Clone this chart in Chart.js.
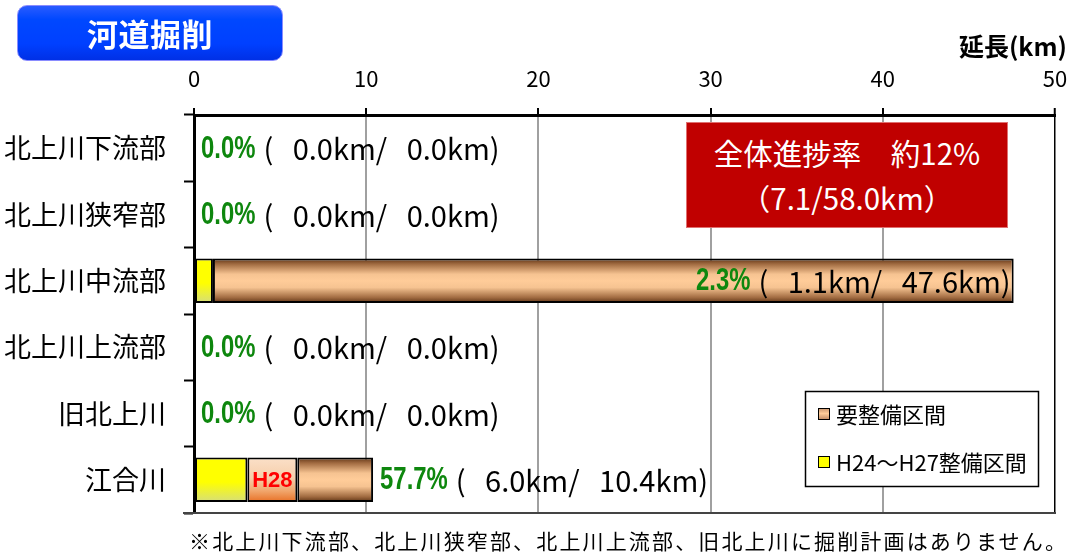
<!DOCTYPE html>
<html lang="ja">
<head>
<meta charset="utf-8">
<title>河道掘削</title>
<script src="https://cdn.jsdelivr.net/npm/chart.js@4.4.1/dist/chart.umd.min.js"></script>
<style>
html,body{margin:0;padding:0;background:#fff;}
#wrap{position:relative;width:1078px;height:556px;overflow:hidden;font-family:"Noto Sans CJK JP","Noto Sans",sans-serif;}
#chart{position:absolute;left:0;top:0;}
#title{position:absolute;left:17px;top:5px;width:266px;height:56px;box-sizing:border-box;border-radius:10px;
  border:1px solid #8a8cff;background:linear-gradient(#2a5cff 0%,#0048ff 25%,#0040ff 70%,#0030e6 100%);
  color:#fff;font-weight:bold;font-size:31px;line-height:54px;text-align:center;letter-spacing:0.5px;}
#unit{position:absolute;right:11px;top:29px;font-weight:bold;font-size:25px;line-height:32px;color:#000;}
#summary{position:absolute;left:686px;top:122px;width:322px;height:106px;box-sizing:border-box;
  background:#c00000;border:1px solid #e07070;color:#fff;font-size:29.5px;line-height:45px;text-align:center;padding-top:7px;}
#note{position:absolute;left:189px;top:524px;font-size:21px;line-height:32px;letter-spacing:2.15px;color:#000;white-space:nowrap;}
</style>
</head>
<body>
<div id="wrap">
  <canvas id="chart" width="1078" height="556"></canvas>
  <div id="title">河道掘削</div>
  <div id="unit">延長(km)</div>
  <div id="summary">全体進捗率　約12%<br>（7.1/58.0km）</div>
  <div id="note">※北上川下流部、北上川狭窄部、北上川上流部、旧北上川に掘削計画はありません。</div>
</div>
<script>
// 区間ごとの延長 (km)
const categories = ['北上川下流部', '北上川狭窄部', '北上川中流部', '北上川上流部', '旧北上川', '江合川'];
const doneH24toH27 = [0, 0, 1.1, 0, 0, 3.1];   // H24〜H27 整備済み
const doneH28      = [0, 0, 0,   0, 0, 2.9];   // H28 整備
const remaining    = [0, 0, 46.5, 0, 0, 4.4];  // 要整備区間
const doneKm       = [0, 0, 1.1, 0, 0, 6.0];
const totalKm      = [0, 0, 47.6, 0, 0, 10.4];
const progressRate = ['0.0%', '0.0%', '2.3%', '0.0%', '0.0%', '57.7%'];
const seriesNames  = ['H24〜H27整備区間', 'H28', '要整備区間'];
const xMin = 0, xMax = 50, xStep = 10;

const BAR_PCT = 0.67;

const brownStops = [[0, '#5f3416'], [0.12, '#a06a40'], [0.35, '#f6c391'], [0.5, '#ffcc99'],
                    [0.65, '#f6c391'], [0.88, '#a06a40'], [1, '#5a3012']];
const yellowStops = [[0, '#ffff00'], [0.55, '#ffff00'], [1, '#d6de7a']];
const h28Stops = [[0, '#fbe0c8'], [0.45, '#f6cfac'], [0.75, '#f1a66c'], [1, '#e86f24']];

function fillGradient(g, stops) { stops.forEach(([o, c]) => g.addColorStop(o, c)); return g; }

// Vertical gradient spanning the height of each bar
function barGradient(stops) {
  return function (ctx) {
    const chart = ctx.chart, ys = chart.scales.y;
    if (!ys || !chart.chartArea || ctx.dataIndex === undefined) return stops[Math.floor(stops.length / 2)][1];
    const band = ys.height / categories.length;
    const c = ys.getPixelForValue(ctx.dataIndex);
    const h = band * BAR_PCT;
    return fillGradient(chart.ctx.createLinearGradient(0, c - h / 2, 0, c + h / 2), stops);
  };
}

const LABEL_FONT = '"Noto Sans CJK JP", "Noto Sans", sans-serif';
const NARROW = 0.77;   // horizontal squeeze for the condensed percentage text

const barLabels = {
  id: 'barLabels',
  afterDatasetsDraw(chart) {
    const { ctx, scales: { x, y } } = chart;
    ctx.save();
    ctx.textBaseline = 'middle';
    // H28 segment caption
    const h28Meta = chart.getDatasetMeta(1);
    h28Meta.data.forEach((bar, i) => {
      if (!doneH28[i]) return;
      ctx.font = 'bold 22px "Liberation Sans", Arial, sans-serif';
      ctx.fillStyle = '#ff0000';
      ctx.textAlign = 'center';
      ctx.fillText('H28', (bar.x + bar.base) / 2, bar.y + 1);
    });
    // progress rate and lengths
    categories.forEach((name, i) => {
      const cy = y.getPixelForValue(i) + 1;
      const end = x.getPixelForValue(totalKm[i]);
      const rate = progressRate[i];
      const detail = '(   ' + doneKm[i].toFixed(1) + 'km/   ' + totalKm[i].toFixed(1) + 'km)';
      const rateFont = 'bold 31px "Liberation Sans", Arial, sans-serif';
      const detailFont = '29px ' + LABEL_FONT;
      ctx.font = rateFont;
      const wRate = ctx.measureText(rate).width * NARROW;
      ctx.font = detailFont;
      const wDetail = ctx.measureText(detail).width;
      const gap = 8;
      let startX;
      if (end + 7 + wRate + gap + wDetail > chart.chartArea.right) {
        startX = end - 3 - (wRate + gap + wDetail);
      } else {
        startX = end + 7;
      }
      ctx.textAlign = 'left';
      ctx.font = rateFont;
      ctx.fillStyle = '#0e870e';
      ctx.save();
      ctx.translate(startX, cy);
      ctx.scale(NARROW, 1);
      ctx.fillText(rate, 0, 0);
      ctx.restore();
      ctx.font = detailFont;
      ctx.fillStyle = '#000';
      ctx.fillText(detail, startX + wRate + gap, cy);
    });
    ctx.restore();
  }
};

const frameAndLegend = {
  id: 'frameAndLegend',
  afterDraw(chart) {
    const { ctx, chartArea: a } = chart;
    ctx.save();
    // bottom edge of the plot
    ctx.strokeStyle = '#444';
    ctx.lineWidth = 2;
    ctx.beginPath();
    ctx.moveTo(183, a.bottom);
    ctx.lineTo(a.right + 1, a.bottom);
    ctx.stroke();

    // legend box
    const lx = 805, ly = 391, lw = 233, lh = 95;
    ctx.fillStyle = '#fff';
    ctx.fillRect(lx, ly, lw, lh);
    ctx.strokeStyle = '#000';
    ctx.lineWidth = 1.5;
    ctx.strokeRect(lx + 0.5, ly + 0.5, lw, lh);

    const items = [
      { label: chart.data.datasets[2].label, stops: [[0, '#c8926a'], [0.5, '#ffcc99'], [1, '#c8926a']], y: 414 },
      { label: chart.data.datasets[0].label, stops: [[0, '#ffff00'], [1, '#ffff00']], y: 462 }
    ];
    items.forEach(it => {
      const sx = 818, sy = it.y - 6, s = 11;
      ctx.fillStyle = fillGradient(ctx.createLinearGradient(0, sy, 0, sy + s), it.stops);
      ctx.fillRect(sx, sy, s, s);
      ctx.strokeStyle = '#000';
      ctx.lineWidth = 1;
      ctx.strokeRect(sx + 0.5, sy + 0.5, s, s);
      ctx.fillStyle = '#000';
      ctx.font = '22px ' + LABEL_FONT;
      ctx.textAlign = 'left';
      ctx.textBaseline = 'middle';
      ctx.fillText(it.label, 836, it.y + 1);
    });
    ctx.restore();
  }
};

new Chart(document.getElementById('chart'), {
  type: 'bar',
  data: {
    labels: categories,
    datasets: [
      { label: seriesNames[0], data: doneH24toH27, backgroundColor: barGradient(yellowStops) },
      { label: seriesNames[1], data: doneH28, backgroundColor: barGradient(h28Stops) },
      { label: seriesNames[2], data: remaining, backgroundColor: barGradient(brownStops) }
    ].map(d => Object.assign(d, {
      borderColor: '#000', borderWidth: 2, borderSkipped: false,
      barPercentage: BAR_PCT, categoryPercentage: 1
    }))
  },
  options: {
    indexAxis: 'y',
    responsive: false,
    animation: false,
    devicePixelRatio: 1,
    layout: { padding: { left: 0, top: 0, right: 23, bottom: 43 } },
    plugins: { legend: { display: false }, tooltip: { enabled: false } },
    scales: {
      x: {
        position: 'top',
        stacked: true,
        min: xMin, max: xMax,
        afterFit(scale) { scale.height = 115; scale.paddingLeft = 0; scale.paddingRight = 0; },
        ticks: {
          stepSize: xStep,
          color: '#000',
          padding: 16,
          font: { family: LABEL_FONT, size: 22 }
        },
        grid: {
          color: ctx => (ctx.tick && ctx.tick.value === xMax) ? '#000' : '#a0a0a0',
          lineWidth: ctx => (ctx.tick && ctx.tick.value === xMax) ? 1.5 : 2,
          tickColor: '#000',
          tickLength: 7,
          tickWidth: 2
        },
        border: { color: '#000', width: 3 }
      },
      y: {
        stacked: true,
        afterFit(scale) { scale.width = 194; },
        ticks: {
          color: '#000',
          padding: 18,
          font: { family: LABEL_FONT, size: 27 }
        },
        grid: {
          offset: true,
          drawOnChartArea: false,
          tickColor: '#000',
          tickLength: 10,
          tickWidth: 2
        },
        border: { color: '#000', width: 3 }
      }
    }
  },
  plugins: [barLabels, frameAndLegend]
});
</script>
</body>
</html>
